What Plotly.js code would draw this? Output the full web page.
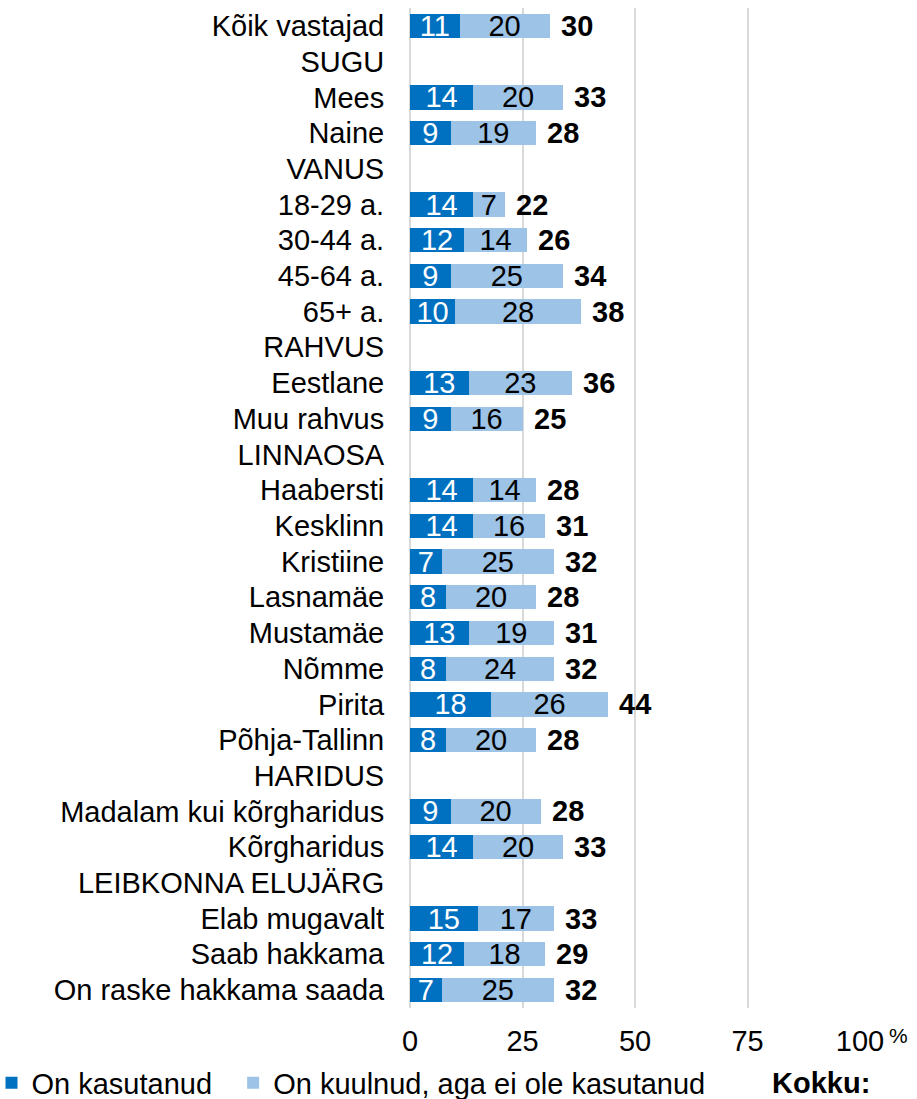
<!DOCTYPE html>
<html>
<head>
<meta charset="utf-8">
<script src="https://cdn.plot.ly/plotly-3.0.1.min.js"></script>
<style>html,body{margin:0;padding:0;background:#fff;}#chart{width:917px;height:1099px;}</style>
</head>
<body>
<div id="chart"></div>
<script>
const categories = ["Kõik vastajad","SUGU","Mees","Naine","VANUS","18-29 a.","30-44 a.","45-64 a.","65+ a.","RAHVUS","Eestlane","Muu rahvus","LINNAOSA","Haabersti","Kesklinn","Kristiine","Lasnamäe","Mustamäe","Nõmme","Pirita","Põhja-Tallinn","HARIDUS","Madalam kui kõrgharidus","Kõrgharidus","LEIBKONNA ELUJÄRG","Elab mugavalt","Saab hakkama","On raske hakkama saada"];
const used  = [11,null,14,9,null,14,12,9,10,null,13,9,null,14,14,7,8,13,8,18,8,null,9,14,null,15,12,7];
const heard = [20,null,20,19,null,7,14,25,28,null,23,16,null,14,16,25,20,19,24,26,20,null,20,20,null,17,18,25];
const totals = [30,null,33,28,null,22,26,34,38,null,36,25,null,28,31,32,28,31,32,44,28,null,28,33,null,33,29,32];
const seriesNames = ["On kasutanud","On kuulnud, aga ei ole kasutanud"];
const totalLabel = "Kokku:";
const xTicks = [0,25,50,75,100];
const xTickText = ["0","25","50","75","100"];
const xUnit = "%";

const FONT = "Liberation Sans, Arial, sans-serif";
const FS = 29;

const traces = [
  {type:"bar", orientation:"h", name:seriesNames[0], y:categories, x:used, legend:"legend",
   marker:{color:"#0070C0"}, text:used.map(v=>v==null?"":String(v)), textposition:"inside",
   insidetextanchor:"middle", textangle:0, textfont:{color:"#ffffff", size:FS, family:FONT},
   hoverinfo:"skip"},
  {type:"bar", orientation:"h", name:seriesNames[1], y:categories, x:heard, legend:"legend2",
   marker:{color:"#9DC3E6"}, text:heard.map(v=>v==null?"":String(v)), textposition:"inside",
   insidetextanchor:"middle", textangle:0, textfont:{color:"#000000", size:FS, family:FONT},
   hoverinfo:"skip"}
];

const annotations = [];
categories.forEach((c,i)=>{
  if(totals[i]!=null){
    annotations.push({x:used[i]+heard[i], y:c, xref:"x", yref:"y", text:"<b>"+totals[i]+"</b>",
      showarrow:false, xanchor:"left", xshift:9, font:{size:FS, family:FONT, color:"#000"}});
  }
});
annotations.push({xref:"paper", yref:"paper", x:1, y:0, xanchor:"left", yanchor:"middle", xshift:27, yshift:-27,
  text:xUnit, showarrow:false, font:{size:21, family:FONT, color:"#000"}});
annotations.push({xref:"paper", yref:"paper", x:0.8, y:-0.075, xanchor:"left", yanchor:"middle",
  text:"<b>"+totalLabel+"</b>", showarrow:false, font:{size:FS, family:FONT, color:"#000"}});

const legendBase = {orientation:"h", xref:"paper", yref:"paper", y:-0.075, xanchor:"left", yanchor:"middle",
  font:{size:FS, family:FONT, color:"#000"}, bgcolor:"rgba(0,0,0,0)", itemwidth:30};

const layout = {
  width:917, height:1099,
  margin:{l:410, r:57, t:8, b:91, autoexpand:false},
  paper_bgcolor:"#fff", plot_bgcolor:"#fff",
  barmode:"stack", bargap:0.32,
  font:{family:FONT, size:FS, color:"#000"},
  uniformtext:{mode:"show", minsize:FS},
  xaxis:{range:[0,100], tickvals:xTicks, ticktext:xTickText, showgrid:true, gridcolor:"#D9D9D9", gridwidth:2,
    zeroline:true, zerolinecolor:"#D9D9D9", zerolinewidth:2, showline:false,
    ticks:"outside", ticklen:7, tickcolor:"rgba(0,0,0,0)", tickfont:{size:FS, family:FONT, color:"#000"}, fixedrange:true},
  yaxis:{type:"category", categoryorder:"array", categoryarray:categories, autorange:"reversed",
    showgrid:false, zeroline:false, showline:false, ticks:"outside", ticklen:19, tickcolor:"rgba(0,0,0,0)",
    tickfont:{size:FS, family:FONT, color:"#000"}, fixedrange:true},
  showlegend:true,
  legend:Object.assign({}, legendBase, {x:-0.93}),
  legend2:Object.assign({}, legendBase, {x:-0.393}),
  annotations:annotations
};

Plotly.newPlot("chart", traces, layout, {displayModeBar:false, staticPlot:true});
</script>
</body>
</html>
